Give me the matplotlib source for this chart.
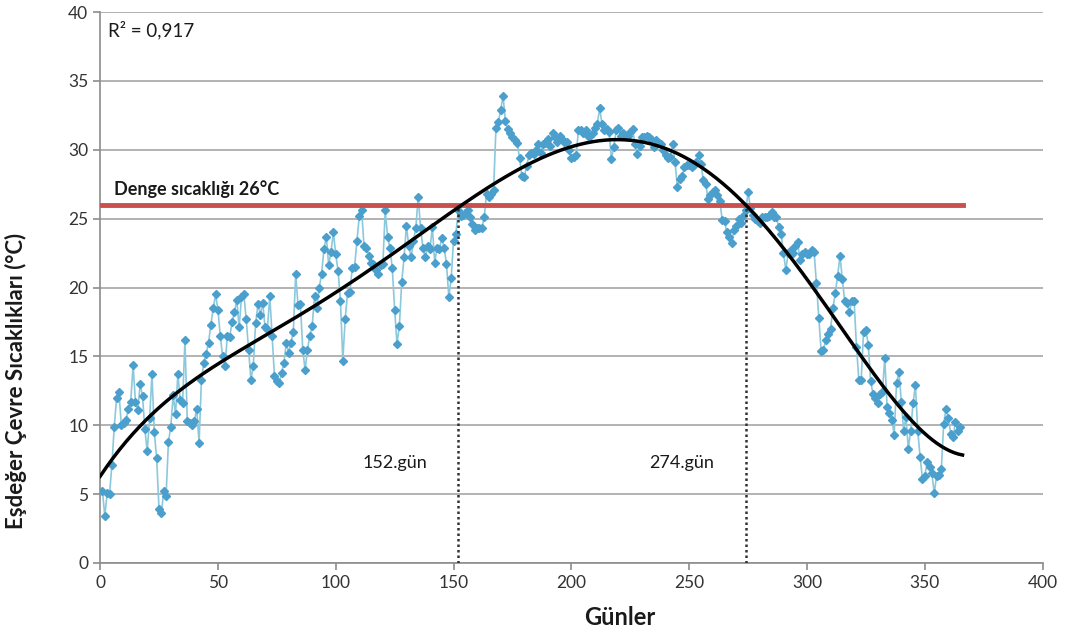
import numpy as np
import matplotlib
matplotlib.use('Agg')
import matplotlib.pyplot as plt

plt.rcParams['font.family'] = ['Lato', 'DejaVu Sans']

# daily equivalent environment temperatures, days 1..365
temps = [
    5.2, 3.4, 5.1, 5.0, 7.1, 9.9, 12.0, 12.4, 10.0, 10.2,
    10.4, 11.2, 11.7, 14.4, 11.7, 11.1, 13.0, 12.1, 9.7, 8.1,
    10.5, 13.7, 9.5, 7.6, 3.9, 3.6, 5.2, 4.9, 8.8, 9.9,
    12.2, 10.8, 13.7, 11.8, 11.6, 16.2, 10.3, 10.2, 10.0, 10.3,
    11.2, 8.7, 13.3, 14.5, 15.2, 16.0, 17.3, 18.5, 19.5, 18.4,
    16.5, 15.0, 14.3, 16.5, 16.4, 17.5, 18.2, 19.1, 17.1, 19.3,
    19.5, 17.7, 15.5, 13.3, 14.3, 17.4, 18.8, 18.0, 18.9, 17.1,
    17.0, 19.4, 16.5, 13.55, 13.2, 13.1, 13.8, 14.5, 16.0, 15.25,
    16.0, 16.8, 21.0, 18.7, 18.8, 15.5, 14.0, 15.5, 16.5, 17.2,
    19.4, 18.5, 20.0, 21.0, 22.8, 23.7, 21.6, 22.6, 24.0, 22.4,
    21.2, 19.0, 14.7, 17.7, 19.6, 19.7, 21.4, 21.5, 23.4, 25.2,
    25.6, 23.0, 22.9, 22.3, 21.8, 21.7, 21.3, 21.0, 21.6, 21.7,
    25.6, 23.7, 22.9, 21.4, 18.4, 15.9, 17.2, 20.4, 22.2, 24.5,
    23.0, 22.2, 23.4, 24.35, 26.6, 24.3, 22.9, 22.2, 23.0, 22.8,
    24.4, 21.8, 22.9, 22.8, 23.6, 22.9, 21.7, 19.3, 20.7, 23.4,
    23.9, 25.6, 25.2, 25.3, 25.4, 25.6, 25.1, 24.6, 24.2, 24.3,
    24.3, 24.3, 25.1, 26.8, 26.6, 26.8, 27.1, 31.6, 32.0, 32.9,
    33.9, 32.1, 31.5, 31.25, 30.9, 30.7, 30.5, 29.4, 28.1, 28.0,
    28.8, 29.6, 29.8, 29.7, 30.0, 30.4, 29.8, 30.4, 30.5, 30.8,
    30.3, 31.25, 30.9, 30.6, 31.0, 30.8, 30.6, 30.6, 30.0, 29.4,
    29.5, 29.6, 31.4, 31.4, 31.2, 31.4, 31.0, 31.0, 31.2, 31.6,
    31.9, 33.0, 31.9, 31.4, 31.5, 31.3, 29.35, 30.2, 31.4, 31.6,
    31.0, 31.2, 31.0, 31.0, 31.3, 31.5, 30.4, 29.7, 30.3, 30.9,
    30.9, 31.0, 30.9, 30.8, 30.2, 30.7, 30.5, 30.4, 30.0, 29.6,
    29.4, 29.5, 30.4, 29.1, 27.3, 27.9, 28.1, 28.75, 28.9, 28.9,
    28.75, 28.9, 29.1, 29.6, 29.0, 27.8, 27.5, 26.45, 26.7, 26.9,
    27.1, 26.7, 26.3, 24.9, 24.8, 24.0, 23.7, 23.2, 24.2, 24.5,
    25.0, 24.7, 25.2, 25.6, 26.9, 25.8, 25.25, 25.0, 24.8, 24.65,
    25.1, 25.1, 25.1, 25.2, 25.5, 25.1, 25.1, 24.4, 23.9, 22.5,
    21.3, 22.5, 22.7, 22.5, 23.0, 23.3, 22.0, 22.4, 22.6, 22.4,
    22.4, 22.7, 22.6, 20.3, 17.8, 15.4, 15.5, 16.2, 16.6, 17.0,
    18.5, 19.6, 20.85, 22.3, 20.6, 19.0, 18.9, 18.2, 19.0, 19.0,
    15.7, 13.3, 13.3, 16.8, 16.9, 15.85, 13.2, 12.3, 11.95, 11.6,
    12.3, 12.4, 14.9, 11.3, 10.9, 10.4, 9.3, 13.05, 13.9, 11.7,
    9.6, 10.6, 8.3, 9.6, 11.6, 12.9, 9.6, 7.7, 6.1, 6.35,
    7.3, 6.95, 6.5, 5.05, 6.35, 6.4, 6.8, 10.1, 11.2, 10.5,
    9.4, 9.15, 10.25, 9.6, 9.9,
]
days = np.arange(1, len(temps) + 1)

equilibrium = 26
cross_days = [152, 274]
r2_text = 'R² = 0,917'

# polynomial trend line (like the Excel trendline)
trend = np.polynomial.Polynomial.fit(days, temps, 6)
tx = np.linspace(0, 366, 400)

fig, ax = plt.subplots(figsize=(10.65, 6.34), dpi=100)
fig.subplots_adjust(left=0.094, right=0.979, top=0.981, bottom=0.112)

ax.plot(days, temps, color='#8cc8dc', lw=1.2, marker='D', markersize=3.8,
        markerfacecolor='#4a9fcc', markeredgecolor='#4a9fcc', zorder=3)
ax.plot(tx, trend(tx), color='black', lw=2.5, zorder=5)

ax.plot([0, 366], [equilibrium, equilibrium], color='#c9504d', lw=3.5,
        zorder=4)
ax.text(6, 26.7, 'Denge sıcaklığı 26°C', fontsize=13, fontweight='bold',
        color='#1a1a1a')

for d in cross_days:
    ax.plot([d, d], [0, equilibrium], color='#333333', lw=1.8,
            linestyle=(0, (1, 1.2)), zorder=4)
    ax.text(d - 27, 6.9, f'{d}.gün', fontsize=13, ha='center',
            color='#1a1a1a')

ax.text(3.3, 38.7, r2_text, fontsize=13.5, va='center', color='#1a1a1a')

ax.set_xlim(0, 400)
ax.set_ylim(0, 40)
ax.set_xticks(np.arange(0, 401, 50))
ax.set_yticks(np.arange(0, 41, 5))
ax.yaxis.grid(True, color='#a6a6a6', lw=1.2)
ax.set_axisbelow(True)
for s in ['top', 'right']:
    ax.spines[s].set_visible(False)
for s in ['left', 'bottom']:
    ax.spines[s].set_color('#8c8c8c')
    ax.spines[s].set_linewidth(1.2)
ax.tick_params(colors='#8c8c8c', labelcolor='#333333', labelsize=12.5,
               length=5, width=1.2)

ax.set_xlabel('Günler', fontsize=17, fontweight='bold', color='#1a1a1a')
ax.set_ylabel('Eşdeğer Çevre Sıcaklıkları (°C)', fontsize=16,
              fontweight='bold', color='#1a1a1a')
# Excel placed the axis titles off-centre
ax.xaxis.set_label_coords(0.551, -0.078)
ax.yaxis.set_label_coords(-0.078, 0.33)

fig.savefig('out.png', dpi=100)
